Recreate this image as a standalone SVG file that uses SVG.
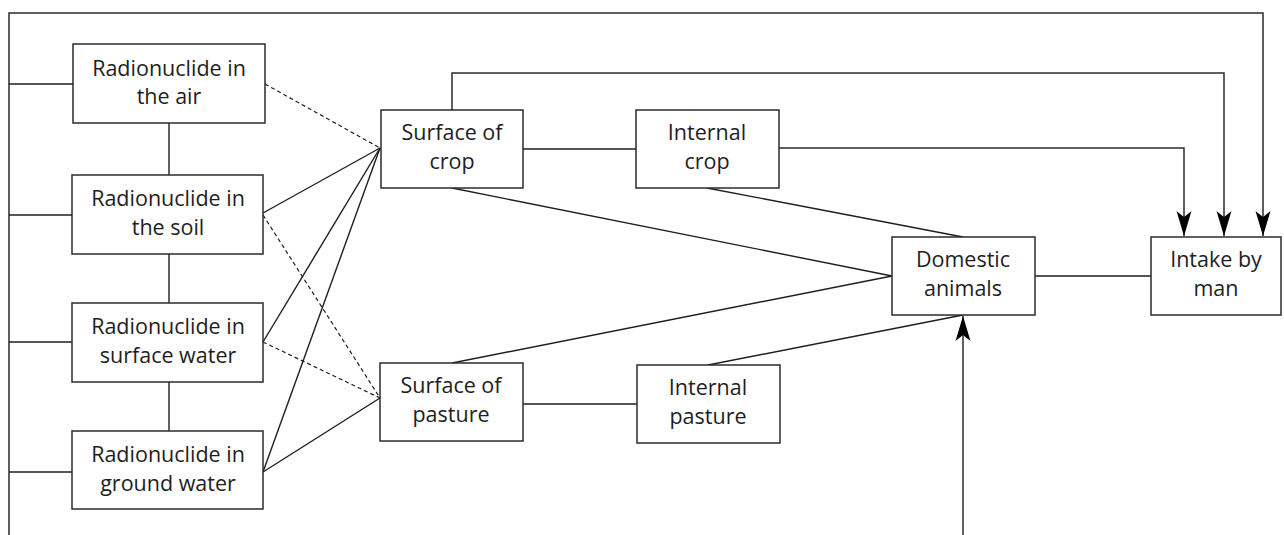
<svg xmlns="http://www.w3.org/2000/svg" width="1284" height="535" viewBox="0 0 1284 535">
<style>
  .box { fill: #fff; stroke: #2b2b2b; stroke-width: 1.5; }
  .lbl { font-family: "Open Sans", "Noto Sans", sans-serif; font-size: 21.5px; fill: #1e1e1e; text-anchor: middle; }
  .ln { fill: none; stroke: #1e1e1e; stroke-width: 1.4; }
  .dash { fill: none; stroke: #1e1e1e; stroke-width: 1.2; stroke-dasharray: 4 3; }
  .arr { fill: none; stroke: #2b2b2b; stroke-width: 1.5; marker-end: url(#ah); }
</style>
<defs>
  <marker id="ah" markerUnits="userSpaceOnUse" markerWidth="30" markerHeight="20" viewBox="-28 -10 30 20" refX="0" refY="0" orient="auto">
    <path d="M0,0 L-25,-7.5 L-19,0 L-25,7.5 Z" fill="#000"/>
  </marker>
</defs>
<rect width="1284" height="535" fill="#fff"/>
<g id="connectors">
  <polyline class="arr" points="9,535 9,13 1263,13 1263,236"/>
  <polyline class="arr" points="452,110 452,73 1224,73 1224,236"/>
  <polyline class="arr" points="779,148 1184,148 1184,236"/>
  <line class="arr" x1="963" y1="535" x2="963" y2="316"/>
  <line class="ln" x1="9" y1="84" x2="73" y2="84"/>
  <line class="ln" x1="9" y1="215" x2="72" y2="215"/>
  <line class="ln" x1="9" y1="342" x2="72" y2="342"/>
  <line class="ln" x1="9" y1="472" x2="72" y2="472"/>
  <line class="ln" x1="169" y1="123" x2="169" y2="175"/>
  <line class="ln" x1="169" y1="254" x2="169" y2="303"/>
  <line class="ln" x1="169" y1="382" x2="169" y2="431"/>
  <line class="dash" x1="265" y1="84" x2="380" y2="148"/>
  <line class="dash" x1="263" y1="215" x2="380" y2="398"/>
  <line class="dash" x1="263" y1="342" x2="380" y2="398"/>
  <line class="ln" x1="263" y1="213" x2="380" y2="148"/>
  <line class="ln" x1="263" y1="342" x2="380" y2="148"/>
  <line class="ln" x1="263" y1="472" x2="380" y2="148"/>
  <line class="ln" x1="263" y1="472" x2="380" y2="398"/>
  <line class="ln" x1="523" y1="149" x2="636" y2="149"/>
  <line class="ln" x1="452" y1="188" x2="892" y2="276"/>
  <line class="ln" x1="707" y1="188" x2="963" y2="237"/>
  <line class="ln" x1="452" y1="363" x2="892" y2="276"/>
  <line class="ln" x1="708" y1="365" x2="963" y2="315"/>
  <line class="ln" x1="523" y1="404" x2="637" y2="404"/>
  <line class="ln" x1="1035" y1="276" x2="1151" y2="276"/>
</g>
<g id="air">
  <rect class="box" x="73" y="44" width="192" height="79"/>
  <text class="lbl" x="169" y="76">Radionuclide in</text>
  <text class="lbl" x="169" y="104">the air</text>
</g>
<g id="soil">
  <rect class="box" x="72" y="175" width="191" height="79"/>
  <text class="lbl" x="168" y="206">Radionuclide in</text>
  <text class="lbl" x="168" y="235">the soil</text>
</g>
<g id="surface-water">
  <rect class="box" x="72" y="303" width="191" height="79"/>
  <text class="lbl" x="168" y="334">Radionuclide in</text>
  <text class="lbl" x="168" y="363">surface water</text>
</g>
<g id="ground-water">
  <rect class="box" x="72" y="431" width="191" height="78"/>
  <text class="lbl" x="168" y="462">Radionuclide in</text>
  <text class="lbl" x="168" y="491">ground water</text>
</g>
<g id="surface-crop">
  <rect class="box" x="381" y="110" width="142" height="78"/>
  <text class="lbl" x="452" y="140">Surface of</text>
  <text class="lbl" x="452" y="169">crop</text>
</g>
<g id="internal-crop">
  <rect class="box" x="636" y="110" width="143" height="78"/>
  <text class="lbl" x="707" y="140">Internal</text>
  <text class="lbl" x="707" y="169">crop</text>
</g>
<g id="surface-pasture">
  <rect class="box" x="380" y="363" width="143" height="78"/>
  <text class="lbl" x="451" y="393">Surface of</text>
  <text class="lbl" x="451" y="422">pasture</text>
</g>
<g id="internal-pasture">
  <rect class="box" x="637" y="365" width="143" height="78"/>
  <text class="lbl" x="708" y="395">Internal</text>
  <text class="lbl" x="708" y="424">pasture</text>
</g>
<g id="domestic">
  <rect class="box" x="892" y="237" width="143" height="78"/>
  <text class="lbl" x="963" y="267">Domestic</text>
  <text class="lbl" x="963" y="296">animals</text>
</g>
<g id="intake">
  <rect class="box" x="1151" y="237" width="130" height="78"/>
  <text class="lbl" x="1216" y="267">Intake by</text>
  <text class="lbl" x="1216" y="296">man</text>
</g>
</svg>
